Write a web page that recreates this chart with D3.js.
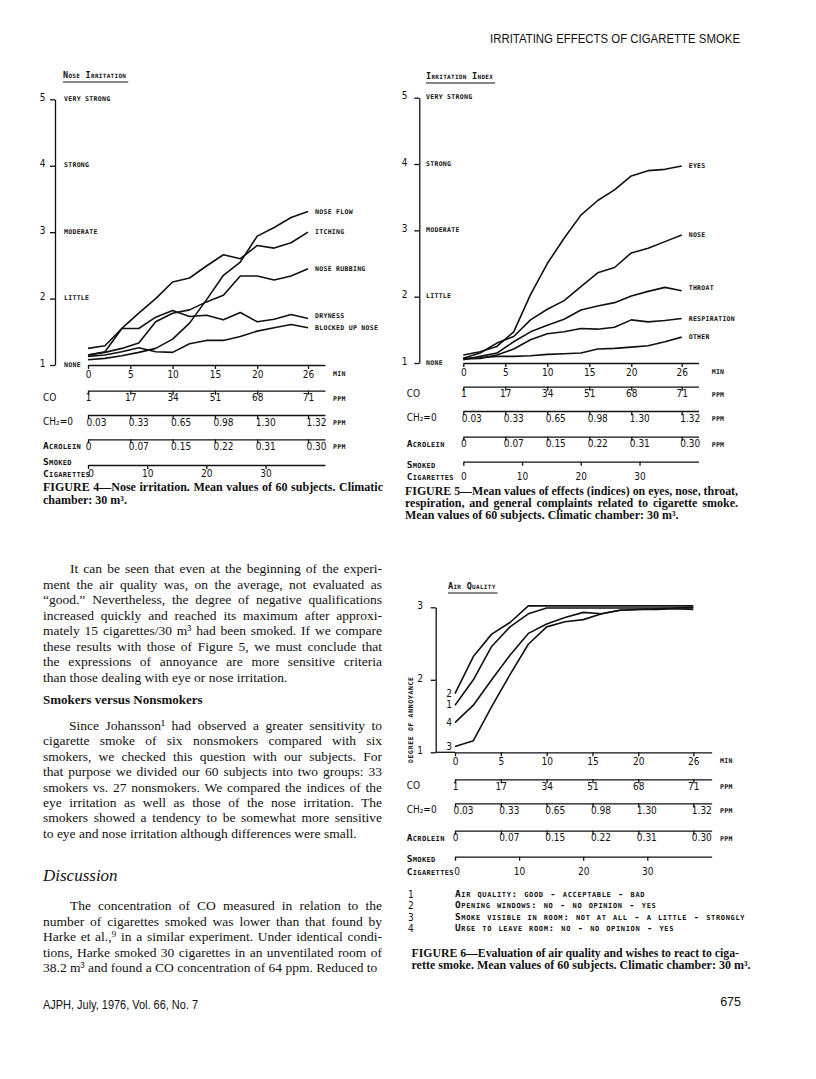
<!DOCTYPE html>
<html>
<head>
<meta charset="utf-8">
<script src="https://cdn.jsdelivr.net/npm/d3@7"></script>
<style>
  body { margin: 0; background: #fff; }
  svg { display: block; }
  .lt { font-family: "DejaVu Sans Mono", monospace; font-size: 6.5px; font-weight: bold; letter-spacing: 0.3px; fill: #111; }
  .sc { font-family: "DejaVu Sans Mono", monospace; font-size: 9.5px; font-weight: bold; font-variant: small-caps; letter-spacing: 0.35px; fill: #111; }
  .leg { letter-spacing: 0.65px; }
  .title { font-size: 8.5px; letter-spacing: 0.3px; }
  .num { font-family: "Liberation Sans Narrow", "DejaVu Sans Condensed", sans-serif; font-size: 10px; fill: #111; }
  .body { font-family: "Liberation Serif", "Times New Roman", serif; font-size: 13.5px; fill: #111; }
  .head { font-family: "Liberation Serif", serif; font-size: 13px; font-weight: bold; fill: #111; }
  .disc { font-family: "Liberation Serif", serif; font-size: 17px; font-style: italic; fill: #111; }
  .cap { font-family: "Liberation Serif", serif; font-size: 12px; font-weight: bold; fill: #111; }
  .sans { font-family: "Liberation Sans", Arial, sans-serif; fill: #111; }
</style>
</head>
<body>
<svg id="page" width="816" height="1079"></svg>
<script>
const svg = d3.select("#page");

//------------------ DATA --------------------------------------//
const minutes = [0, 2, 4, 6, 8, 10, 12, 14, 16, 18, 20, 22, 24, 26];
const minuteTicks = [0, 5, 10, 15, 20, 26];
const coLabels = ["1", "17", "34", "51", "68", "71"];
const ch2oLabels = ["0.03", "0.33", "0.65", "0.98", "1.30", "1.32"];
const acroleinLabels = ["0", "0.07", "0.15", "0.22", "0.31", "0.30"];
const cigaretteTicks = [0, 10, 20, 30];
const cigarettesPerMinute = 1.43;
const intensityLevels = ["NONE", "LITTLE", "MODERATE", "STRONG", "VERY STRONG"];

// figure 4 - nose irritation
const noseNames = ["NOSE FLOW", "ITCHING", "NOSE RUBBING", "DRYNESS", "BLOCKED UP NOSE"];
const noseFlow = [1.08, 1.10, 1.14, 1.19, 1.25, 1.39, 1.63, 1.98, 2.35, 2.55, 2.94, 3.07, 3.22, 3.31];
const itching = [1.15, 1.20, 1.55, 1.78, 2.00, 2.25, 2.31, 2.49, 2.66, 2.60, 2.80, 2.76, 2.84, 3.00];
const noseRubbing = [1.15, 1.19, 1.25, 1.33, 1.65, 1.78, 1.83, 1.95, 2.05, 2.34, 2.34, 2.28, 2.34, 2.45];
const dryness = [1.25, 1.29, 1.55, 1.55, 1.72, 1.82, 1.73, 1.75, 1.68, 1.79, 1.65, 1.69, 1.76, 1.70];
const blockedUpNose = [1.13, 1.15, 1.20, 1.26, 1.20, 1.19, 1.32, 1.37, 1.37, 1.43, 1.51, 1.56, 1.61, 1.56];

// figure 5 - irritation index
const indexNames = ["EYES", "NOSE", "THROAT", "RESPIRATION", "OTHER"];
const eyes = [1.12, 1.17, 1.25, 1.47, 2.03, 2.50, 2.88, 3.23, 3.45, 3.61, 3.82, 3.90, 3.92, 3.97];
const nose = [1.07, 1.15, 1.30, 1.40, 1.65, 1.81, 1.94, 2.15, 2.36, 2.44, 2.66, 2.73, 2.83, 2.93];
const throat = [1.05, 1.10, 1.15, 1.32, 1.47, 1.57, 1.66, 1.80, 1.86, 1.91, 2.01, 2.08, 2.14, 2.09];
const respiration = [1.06, 1.07, 1.12, 1.21, 1.35, 1.44, 1.47, 1.52, 1.51, 1.54, 1.65, 1.62, 1.64, 1.67];
const other = [1.07, 1.08, 1.10, 1.10, 1.11, 1.13, 1.14, 1.15, 1.21, 1.22, 1.24, 1.26, 1.32, 1.39];

// figure 6 - air quality
const airKeys = ["1", "2", "3", "4"];
const airQuality = [1.65, 2.00, 2.46, 2.73, 2.91, 2.99, 2.99, 2.99, 2.99, 2.99, 2.99, 2.99, 2.99, 2.99];
const openingWindows = [1.81, 2.32, 2.63, 2.79, 3.02, 3.02, 3.02, 3.02, 3.02, 3.02, 3.02, 3.02, 3.02, 3.02];
const smokeVisible = [1.08, 1.16, 1.63, 2.07, 2.49, 2.73, 2.80, 2.83, 2.91, 2.96, 2.97, 2.97, 2.98, 2.97];
const urgeToLeave = [1.41, 1.65, 2.00, 2.34, 2.64, 2.77, 2.86, 2.93, 2.91, 2.96, 2.97, 2.98, 2.99, 3.00];
const airLegend = [
  "Air quality: good - acceptable - bad",
  "Opening windows: no - no opinion - yes",
  "Smoke visible in room: not at all - a little - strongly",
  "Urge to leave room: no - no opinion - yes"
];

//------------------ TEXT --------------------------------------//
const para1 = [
  "It can be seen that even at the beginning of the experi-",
  "ment the air quality was, on the average, not evaluated as",
  "\u201Cgood.\u201D Nevertheless, the degree of negative qualifications",
  "increased quickly and reached its maximum after approxi-",
  "mately 15 cigarettes/30 m\u00B3 had been smoked. If we compare",
  "these results with those of Figure 5, we must conclude that",
  "the expressions of annoyance are more sensitive criteria",
  "than those dealing with eye or nose irritation."
];
const para2 = [
  "Since Johansson\u00B9 had observed a greater sensitivity to",
  "cigarette smoke of six nonsmokers compared with six",
  "smokers, we checked this question with our subjects. For",
  "that purpose we divided our 60 subjects into two groups: 33",
  "smokers vs. 27 nonsmokers. We compared the indices of the",
  "eye irritation as well as those of the nose irritation. The",
  "smokers showed a tendency to be somewhat more sensitive",
  "to eye and nose irritation although differences were small."
];
const para3 = [
  "The concentration of CO measured in relation to the",
  "number of cigarettes smoked was lower than that found by",
  "Harke et al.,\u2079 in a similar experiment. Under identical condi-",
  "tions, Harke smoked 30 cigarettes in an unventilated room of",
  "38.2 m\u00B3 and found a CO concentration of 64 ppm. Reduced to"
];
const caption4 = ["FIGURE 4\u2014Nose irritation. Mean values of 60 subjects. Climatic", "chamber: 30 m\u00B3."];
const caption5 = [
  "FIGURE 5\u2014Mean values of effects (indices) on eyes, nose, throat,",
  "respiration, and general complaints related to cigarette smoke.",
  "Mean values of 60 subjects. Climatic chamber: 30 m\u00B3."
];
const caption6 = [
  "FIGURE 6\u2014Evaluation of air quality and wishes to react to ciga-",
  "rette smoke. Mean values of 60 subjects. Climatic chamber: 30 m\u00B3."
];

//------------------ helpers --------------------------------------//
// one line of text, justified to width by word spacing (or squeezed if too long)
function addLine(parent, str, x, y, cls, width) {
  const t = parent.append("text").attr("class", cls).attr("x", x).attr("y", y).text(str);
  if (width) {
    const natural = t.node().getComputedTextLength();
    const gaps = (str.match(/ /g) || []).length;
    if (natural < width && gaps > 0) {
      t.style("word-spacing", ((width - natural) / gaps).toFixed(2) + "px");
    } else if (natural > width) {
      t.attr("textLength", width).attr("lengthAdjust", "spacingAndGlyphs");
    }
  }
  return t;
}

function block(lines, x, y0, lead, width, indent, cls) {
  lines.forEach((s, i) => {
    const ix = i === 0 ? x + indent : x;
    const last = i === lines.length - 1;
    addLine(svg, s, ix, y0 + i * lead, cls, last ? null : width - (ix - x));
  });
}

//------------------ chart drawing --------------------------------------//
function drawFigure(f) {
  const g = svg.append("g").style("color", "#111");
  const span = (f.x26 - f.x0) / 26;
  const x = d3.scaleLinear().domain([0, 28]).range([f.x0, f.x0 + 28 * span]);
  const xCig = d3.scaleLinear().domain([0, 28 * cigarettesPerMinute]).range(x.range());
  const y = d3.scaleLinear().domain(f.yDomain).range([f.yBot, f.yTop]);

  // title with underline
  const title = g.append("text").attr("class", "sc title").attr("x", f.titleX).attr("y", f.titleY).text(f.title);
  const tw = title.node().getComputedTextLength();
  g.append("line")
    .attr("x1", f.titleX).attr("x2", f.titleX + tw + 2)
    .attr("y1", f.titleY + 4).attr("y2", f.titleY + 4)
    .attr("stroke", "#111").attr("stroke-width", 1);

  // y axis
  const yAxis = g.append("g").attr("transform", `translate(${f.yAxisX},0)`)
    .call(d3.axisLeft(y)
      .tickValues(d3.range(f.yDomain[0], f.yDomain[1] + 1))
      .tickSize(5).tickSizeOuter(0).tickPadding(f.numPad)
      .tickFormat(d3.format("d")));
  yAxis.selectAll("text").attr("class", "num").attr("dy", "0.12em");
  yAxis.selectAll("path, line").attr("stroke-width", 1.3);

  if (f.levels) {
    g.selectAll(".lvl").data(f.levels).join("text")
      .attr("class", "lt")
      .attr("x", f.catX)
      .attr("y", (d, i) => y(i + 1) + 1.5)
      .text(d => d);
  }
  if (f.yTitle) {
    g.append("text").attr("class", "lt")
      .attr("transform", `translate(${f.yTitleX},${(y(1) + y(1.9)) / 2}) rotate(-90)`)
      .attr("text-anchor", "middle").style("letter-spacing", "0.65px")
      .text(f.yTitle);
  }

  // minute axis
  const xAxis = g.append("g").attr("transform", `translate(0,${f.axisY})`)
    .call(d3.axisBottom(x).tickValues(minuteTicks).tickSize(4).tickSizeOuter(0));
  xAxis.selectAll("text").attr("class", "num").attr("y", 12.5).attr("dy", null);
  xAxis.selectAll("path, line").attr("stroke-width", 1.3);
  if (f.joinAxes) {
    g.append("line").attr("x1", f.yAxisX).attr("x2", x(0))
      .attr("y1", f.axisY).attr("y2", f.axisY).attr("stroke", "#111").attr("stroke-width", 1.3);
  }
  g.append("text").attr("class", "lt").attr("x", f.unitX).attr("y", f.axisY + 11).text("MIN");

  // concentration scales
  const rows = [
    { label: "CO", cls: "num", ticks: coLabels },
    { label: "CH\u2082=0", cls: "num", ticks: ch2oLabels },
    { label: "Acrolein", cls: "sc", ticks: acroleinLabels }
  ];
  rows.forEach((r, k) => {
    const yy = f.secY[k];
    const ax = g.append("g").attr("transform", `translate(0,${yy})`)
      .call(d3.axisBottom(x).tickValues(minuteTicks).tickSize(4).tickSizeOuter(0)
        .tickFormat((d, i) => r.ticks[i]));
    ax.selectAll("text").attr("class", "num").attr("y", 10.5).attr("dy", null)
      .attr("text-anchor", (d, i) => r.ticks[i].includes(".") ? "start" : "middle")
      .attr("dx", (d, i) => r.ticks[i].includes(".") ? -2 : 0);
    ax.selectAll("path, line").attr("stroke-width", 1.3);
    g.append("text").attr("class", r.cls).attr("x", f.labelX).attr("y", yy + 10).text(r.label);
    g.append("text").attr("class", "lt").attr("x", f.unitX).attr("y", yy + 10).text("PPM");
  });

  // smoked cigarettes scale
  const cax = g.append("g").attr("transform", `translate(0,${f.cigY})`)
    .call(d3.axisBottom(xCig).tickValues(cigaretteTicks).tickSize(4).tickSizeOuter(0));
  cax.selectAll("text").attr("class", "num").attr("y", f.cigLblDy).attr("dy", null)
    .attr("dx", d => d === 0 ? f.cigZeroDx : 0);
  cax.selectAll("path, line").attr("stroke-width", 1.3);
  g.append("text").attr("class", "sc").attr("x", f.labelX).attr("y", f.cigY + f.smokedDy).text("Smoked");
  g.append("text").attr("class", "sc").attr("x", f.labelX).attr("y", f.cigY + f.cigarettesDy).text("Cigarettes");

  // curves
  const line = d3.line().x((d, i) => x(minutes[i])).y(d => y(d));
  g.selectAll(".curve").data(f.series).join("path")
    .attr("class", "curve")
    .attr("d", d => line(d.values))
    .attr("fill", "none").attr("stroke", "#111")
    .attr("stroke-width", 1.6).attr("stroke-linejoin", "round");

  if (f.endLabels) {
    g.selectAll(".endlbl").data(f.series).join("text")
      .attr("class", "lt")
      .attr("x", x(26) + 7)
      .attr("y", (d, i) => y(d.values[d.values.length - 1]) + 2 + (f.labelDy[i] || 0))
      .text(d => d.name);
  }
  if (f.startLabels) {
    g.selectAll(".startlbl").data(f.series).join("text")
      .attr("class", "num")
      .attr("text-anchor", "end")
      .attr("x", x(0) - 3)
      .attr("y", d => y(d.values[0]) + 3)
      .text(d => d.name);
  }
}

//------------------ figures --------------------------------------//
drawFigure({
  title: "Nose Irritation", titleX: 63, titleY: 78,
  x0: 88, x26: 308, yDomain: [1, 5], yBot: 365, yTop: 99.3,
  yAxisX: 55, numPad: 4.5, catX: 64, levels: intensityLevels,
  axisY: 365, unitX: 333, labelX: 43,
  secY: [390.7, 415, 439.3], cigY: 465, cigLblDy: 12, smokedDy: 0, cigarettesDy: 11.5, cigZeroDx: 2.5,
  series: [noseFlow, itching, noseRubbing, dryness, blockedUpNose].map((v, i) => ({ name: noseNames[i], values: v })),
  endLabels: true, labelDy: [0, 0, 0, -3, 0]
});

drawFigure({
  title: "Irritation Index", titleX: 426, titleY: 79,
  x0: 463.3, x26: 681.7, yDomain: [1, 5], yBot: 363, yTop: 97.7,
  yAxisX: 419.3, numPad: 6.8, catX: 426, levels: intensityLevels,
  axisY: 363, unitX: 711.7, labelX: 406.7,
  secY: [386.7, 411, 436.7], cigY: 461.7, cigLblDy: 18, smokedDy: 6, cigarettesDy: 18, cigZeroDx: 0,
  series: [eyes, nose, throat, respiration, other].map((v, i) => ({ name: indexNames[i], values: v })),
  endLabels: true, labelDy: [0, 0, -2.5, 0, 0]
});

drawFigure({
  title: "Air Quality", titleX: 448, titleY: 589,
  x0: 455, x26: 693.3, yDomain: [1, 3], yBot: 752.3, yTop: 607.3,
  yAxisX: 435.7, numPad: 7.7, joinAxes: true,
  yTitle: "DEGREE OF ANNOYANCE", yTitleX: 412.5,
  axisY: 752.3, unitX: 720, labelX: 406.7,
  secY: [779.3, 803.3, 830.7], cigY: 856.7, cigLblDy: 18, smokedDy: 5, cigarettesDy: 18, cigZeroDx: 1.5,
  series: [airQuality, openingWindows, smokeVisible, urgeToLeave].map((v, i) => ({ name: airKeys[i], values: v })),
  startLabels: true
});

// legend of figure 6
airLegend.forEach((s, i) => {
  const yy = 897 + i * 11.4;
  svg.append("text").attr("class", "num").attr("x", 408).attr("y", yy + 1).text(airKeys[i]);
  svg.append("text").attr("class", "sc leg").attr("x", 455).attr("y", yy).text(s);
});

//------------------ page text --------------------------------------//
addLine(svg, "IRRITATING EFFECTS OF CIGARETTE SMOKE", 490, 43, "sans", null)
  .style("font-size", "12px").attr("textLength", 250).attr("lengthAdjust", "spacingAndGlyphs");

block(caption4, 43, 491, 12.5, 340, 0, "cap");
block(caption5, 405, 495, 12, 333, 0, "cap");
block(caption6, 411.5, 957, 12, 327.5, 0, "cap");

block(para1, 43, 573, 15.5, 339, 27, "body");
svg.append("text").attr("class", "head").attr("x", 43).attr("y", 704).text("Smokers versus Nonsmokers");
block(para2, 43, 730, 15.4, 339, 26, "body");
svg.append("text").attr("class", "disc").attr("x", 43).attr("y", 881).text("Discussion");
block(para3, 43, 910, 15.6, 339, 27, "body");

svg.append("text").attr("class", "sans").attr("x", 43).attr("y", 1009)
  .style("font-size", "12.5px").attr("textLength", 155).attr("lengthAdjust", "spacingAndGlyphs")
  .text("AJPH, July, 1976, Vol. 66, No. 7");
svg.append("text").attr("class", "sans").attr("x", 741).attr("y", 1006)
  .attr("text-anchor", "end").style("font-size", "12.5px").text("675");
</script>
</body>
</html>
